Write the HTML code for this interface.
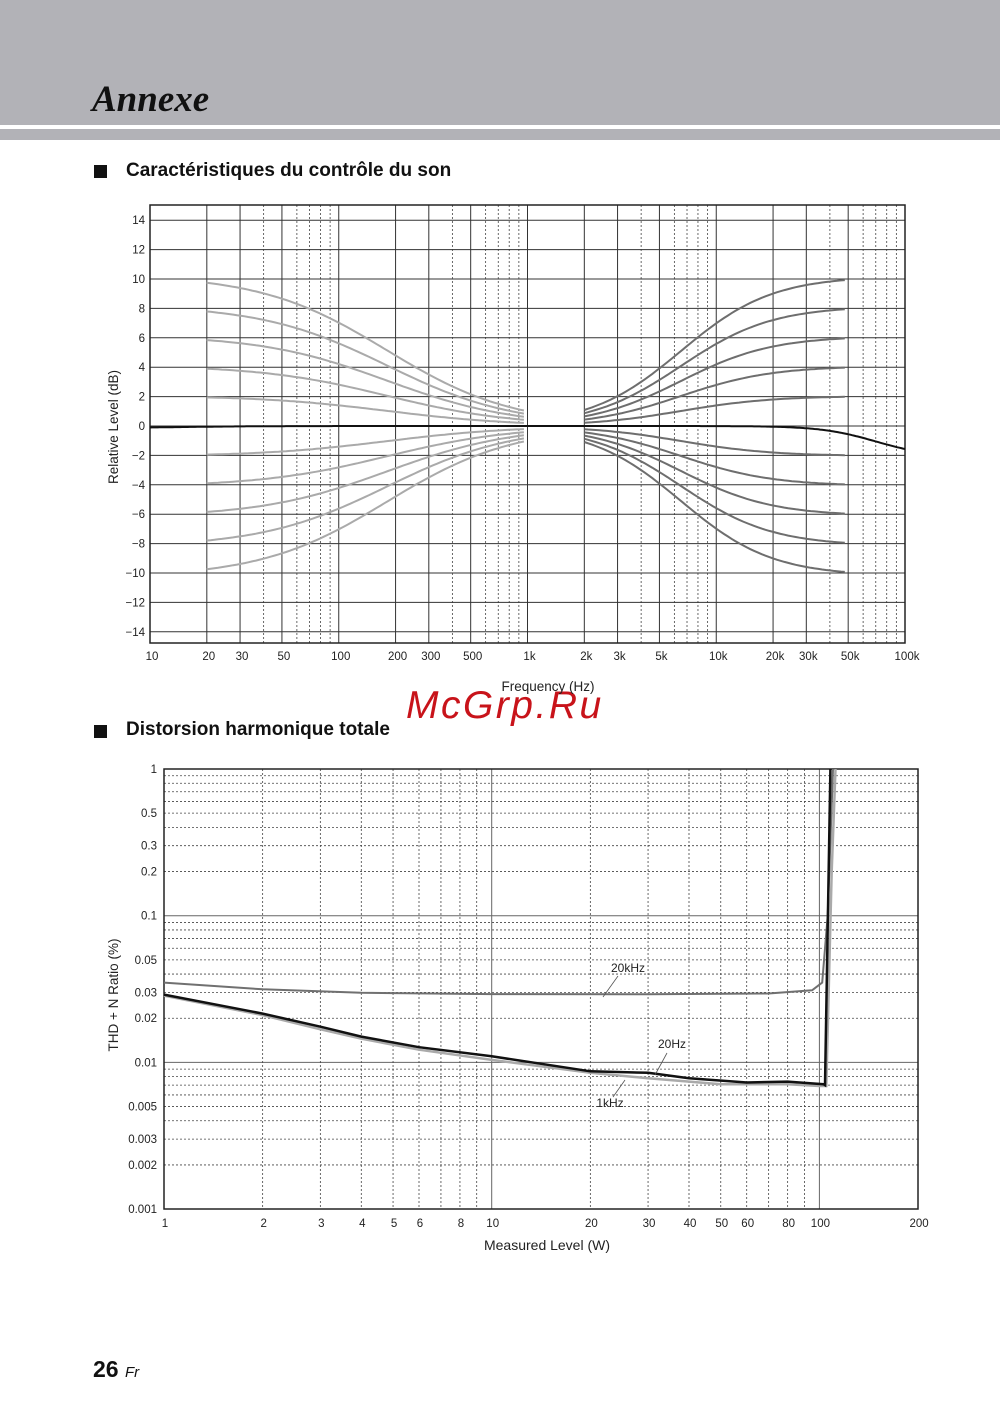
<!DOCTYPE html>
<html><head><meta charset="utf-8"><style>
body{margin:0;width:1000px;height:1413px;background:#fff;position:relative;overflow:hidden;font-family:"Liberation Sans",sans-serif}
.t{position:absolute}
</style></head><body>
<div class="t" style="left:0;top:0;width:1000px;height:125px;background:#b2b2b7"></div>
<div class="t" style="left:0;top:129px;width:1000px;height:11px;background:#b2b2b7"></div>
<div class="t" style="left:92px;top:78px;font-family:'Liberation Serif',serif;font-style:italic;font-weight:bold;font-size:37px;color:#111">Annexe</div>
<div class="t" style="left:94px;top:165px;width:13px;height:13px;background:#111"></div>
<div class="t" style="left:126px;top:160px;font-size:19px;font-weight:bold;color:#111">Caractéristiques du contrôle du son</div>
<div class="t" style="left:94px;top:725px;width:13px;height:13px;background:#111"></div>
<div class="t" style="left:126px;top:719px;font-size:19px;font-weight:bold;color:#111">Distorsion harmonique totale</div>
<div class="t" style="left:406px;top:684px;font-size:39px;color:#c8131a;letter-spacing:2.5px;font-style:italic">McGrp.Ru</div>
<div class="t" style="left:93px;top:1356px;font-size:23px;font-weight:bold;color:#111">26 <span style="font-size:15px;font-weight:normal;font-style:italic">Fr</span></div>
<svg id="s" class="t" style="left:0;top:0" width="1000" height="1413" font-family="Liberation Sans, sans-serif"></svg>
<script>
var s=document.getElementById('s'),h='';
function L(x1,y1,x2,y2,c,w,d){h+='<line x1="'+x1+'" y1="'+y1+'" x2="'+x2+'" y2="'+y2+'" stroke="'+c+'" stroke-width="'+w+'"'+(d?' stroke-dasharray="2,2"':'')+'/>';}
function T(x,y,t,a,sz){h+='<text x="'+x+'" y="'+y+'" font-size="'+(sz||11.5)+'" text-anchor="'+(a||'middle')+'" fill="#222">'+t+'</text>';}
function P(pts,c,w){h+='<path d="M'+pts.map(p=>p[0].toFixed(1)+','+p[1].toFixed(1)).join('L')+'" fill="none" stroke="'+c+'" stroke-width="'+w+'"/>';}
var X1=f=>150+188.75*Math.log10(f/10),Y1=d=>426-14.7*d;
[1,2,3,4,5,6,7,8,9].forEach(m=>{[10,100,1000,10000].forEach(dd=>{var f=m*dd;if(f<10||f>100000)return;var x=X1(f);var sol=(m==1||m==2||m==3||m==5);L(x,205,x,643,sol?'#333':'#444',sol?1:0.8,!sol);});});
for(var d=-14;d<=14;d+=2)L(150,Y1(d),905,Y1(d),'#333',1);
h+='<rect x="150" y="205" width="755" height="438" fill="none" stroke="#222" stroke-width="1.5"/>';
for(var d=-14;d<=14;d+=2)T(145,Y1(d)+4,d<0?'\u2212'+(-d):d,'end');
[[10,'10'],[20,'20'],[30,'30'],[50,'50'],[100,'100'],[200,'200'],[300,'300'],[500,'500'],[1000,'1k'],[2000,'2k'],[3000,'3k'],[5000,'5k'],[10000,'10k'],[20000,'20k'],[30000,'30k'],[50000,'50k'],[100000,'100k']].forEach(a=>T(X1(a[0])+2,660,a[1]));
T(548,691,'Frequency (Hz)','middle',13.5);
h+='<text x="118" y="427" font-size="13.5" text-anchor="middle" fill="#222" transform="rotate(-90 118 427)">Relative Level (dB)</text>';
h+='<text x="118" y="995" font-size="13.5" text-anchor="middle" fill="#222" transform="rotate(-90 118 995)">THD + N Ratio (%)</text>';
[10,8,6,4,2,-2,-4,-6,-8,-10].forEach(G=>{var p=[],q=[];
for(var lf=Math.log10(20);lf<=3.0001;lf+=0.02){var f=Math.pow(10,lf);p.push([X1(f),Y1(G/(1+Math.pow(f/180,1.3))*1.03)]);}
P(p,'#aaa',2);
for(var lf=Math.log10(2000);lf<=Math.log10(50000)+0.0001;lf+=0.02){var f=Math.pow(10,lf);q.push([X1(f),Y1(G/(1+Math.pow(6500/f,1.8))*1.02)]);}
P(q,'#6e6e6e',2);});
var fl=[];for(var lf=1;lf<=5.0001;lf+=0.01){var f=Math.pow(10,lf);var v=-0.15/(1+Math.pow(f/14,2))-2.1/(1+Math.pow(70000/f,3));fl.push([X1(f),Y1(v)]);}
P(fl,'#111',2);
var X2=w=>164+327.7*Math.log10(w),Y2=v=>769-146.7*Math.log10(v);
[0.001,0.01,0.1].forEach(dd=>{for(var m=2;m<=9;m++)L(164,Y2(m*dd),918,Y2(m*dd),'#444',0.8,true);});
L(164,Y2(0.1),918,Y2(0.1),'#666',1);L(164,Y2(0.01),918,Y2(0.01),'#666',1);
[1,10,100].forEach(dd=>{for(var m=2;m<=9;m++){if(m*dd>200)break;L(X2(m*dd),769,X2(m*dd),1209,'#444',0.8,true);}});
L(X2(10),769,X2(10),1209,'#666',1);L(X2(100),769,X2(100),1209,'#666',1);
h+='<rect x="164" y="769" width="754" height="440" fill="none" stroke="#222" stroke-width="1.5"/>';
[[1,'1'],[0.5,'0.5'],[0.3,'0.3'],[0.2,'0.2'],[0.1,'0.1'],[0.05,'0.05'],[0.03,'0.03'],[0.02,'0.02'],[0.01,'0.01'],[0.005,'0.005'],[0.003,'0.003'],[0.002,'0.002'],[0.001,'0.001']].forEach(a=>T(157,Y2(a[0])+4,a[1],'end'));
[1,2,3,4,5,6,8,10,20,30,40,50,60,80,100,200].forEach(w=>T(X2(w)+1,1227,w));
T(547,1250,'Measured Level (W)','middle',14);
function C(a,c,w){P(a.map(p=>[X2(p[0]),Y2(p[1])]),c,w);}
C([[1,0.0285],[2,0.021],[3,0.0168],[4,0.0145],[6,0.0122],[10,0.0104],[20,0.0085],[30,0.0078],[50,0.0071],[80,0.0071],[100,0.0069],[105,0.0069],[109,0.2],[112,1]],'#aaa',2.5);
C([[1,0.035],[2,0.0315],[4,0.0298],[10,0.0292],[30,0.0291],[70,0.0295],[95,0.031],[102,0.035],[106,0.1],[110,1]],'#707070',2);
C([[1,0.029],[2,0.0215],[3,0.0175],[4,0.015],[6,0.0127],[10,0.011],[20,0.0087],[30,0.0085],[40,0.0078],[60,0.0073],[80,0.0074],[103,0.0071],[104,0.007],[108,1]],'#111',2.5);
L(603,997,618,976,'#555',0.8);T(628,972,'20kHz','middle',12);
L(655,1075,667,1053,'#555',0.8);T(672,1048,'20Hz','middle',12);
L(625,1080,613,1097,'#555',0.8);T(610,1107,'1kHz','middle',12);
s.innerHTML=h;
</script>
</body></html>
